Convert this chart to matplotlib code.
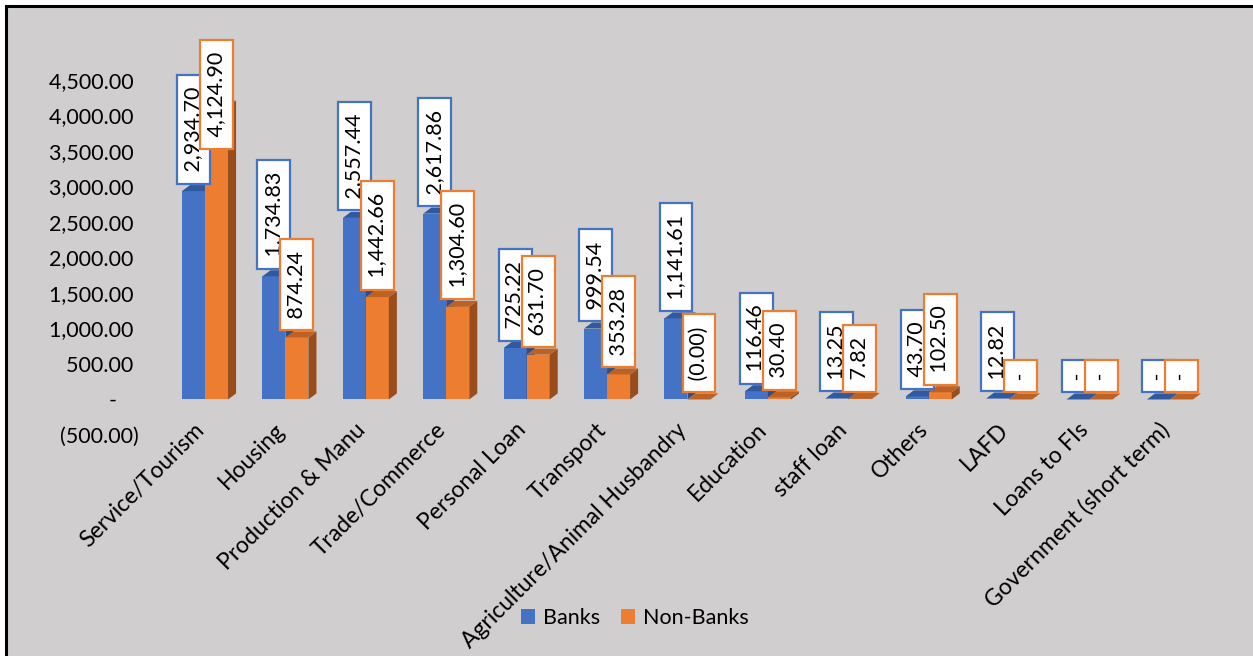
import matplotlib.pyplot as plt
from matplotlib.patches import Polygon, Rectangle, Patch

categories = ['Service/Tourism', 'Housing', 'Production & Manu', 'Trade/Commerce',
              'Personal Loan', 'Transport', 'Agriculture/Animal Husbandry', 'Education',
              'staff loan', 'Others', 'LAFD', 'Loans to FIs', 'Government (short term)']
banks = [2934.70, 1734.83, 2557.44, 2617.86, 725.22, 999.54, 1141.61, 116.46,
         13.25, 43.70, 12.82, 0, 0]
non_banks = [4124.90, 874.24, 1442.66, 1304.60, 631.70, 353.28, -0.001, 30.40,
             7.82, 102.50, 0, 0, 0]
y_ticks = [-500, 0, 500, 1000, 1500, 2000, 2500, 3000, 3500, 4000, 4500]

BLUE = '#4472C4'
ORANGE = '#ED7D31'
BLUE_TOP, BLUE_SIDE = '#30599F', '#2B4F8E'
ORANGE_TOP, ORANGE_SIDE = '#BC6224', '#9A4D1C'
BG = '#D0CECE'
FS = 15.5

plt.rcParams['font.family'] = ['Lato', 'DejaVu Sans']


def acct(v):
    # accounting style: zero as a dash, negatives in brackets
    if v == 0:
        return '-'
    if v < 0:
        return f'({abs(v):,.2f})'
    return f'{v:,.2f}'


fig = plt.figure(figsize=(12.53, 6.56), dpi=100)
fig.patch.set_facecolor('white')
fig.add_artist(Rectangle((6 / 1253, -0.05), 1.1, (650 / 656) + 0.05,
                         transform=fig.transFigure, facecolor=BG,
                         edgecolor='black', linewidth=2.2, zorder=0))

ax = fig.add_axes([150 / 1253, 1 - 445 / 656, 1065 / 1253, 405 / 656])
ax.set_facecolor('none')
ax.set_xlim(-0.684, 12.56)
ax.set_ylim(-641, 5063)
for s in ax.spines.values():
    s.set_visible(False)
ax.set_xticks([])
ax.tick_params(axis='y', length=0, labelsize=FS, pad=8)


def tick_text(v):
    if v == 0:
        return '-    '
    if v < 0:
        return acct(v)
    return acct(v) + ' '


ax.set_yticks(y_ticks)
ax.set_yticklabels([tick_text(v) for v in y_ticks])

w = 0.286
dx, dy = 0.1, 85


def bars_3d(xs, vals, front, top, side, z):
    ax.bar(xs, vals, w, color=front, zorder=z)
    for x, v in zip(xs, vals):
        x0, x1 = x - w / 2, x + w / 2
        h = max(v, 0)
        ax.add_patch(Polygon([(x1, 0), (x1 + dx, dy), (x1 + dx, h + dy), (x1, h)],
                             closed=True, facecolor=side, edgecolor='none', zorder=z))
        ax.add_patch(Polygon([(x0, h), (x1, h), (x1 + dx, h + dy), (x0 + dx, h + dy)],
                             closed=True, facecolor=top, edgecolor='none', zorder=z))


idx = list(range(len(categories)))
xb = [i - w / 2 for i in idx]
xn = [i + w / 2 for i in idx]
bars_3d(xb, banks, BLUE, BLUE_TOP, BLUE_SIDE, 2)
bars_3d(xn, non_banks, ORANGE, ORANGE_TOP, ORANGE_SIDE, 3)

labels = []
for xs, vals, ec, z in [(xb, banks, BLUE, 5), (xn, non_banks, ORANGE, 6)]:
    for x, v in zip(xs, vals):
        t = ax.annotate(' ' + acct(v) + ' ', xy=(x, max(v, 0)), xytext=(0, 10),
                        textcoords='offset points', rotation=90, ha='center',
                        va='bottom', fontsize=FS, zorder=z,
                        bbox=dict(boxstyle='square,pad=0.3', fc='white', ec=ec, lw=1.6))
        labels.append(t)

for i, name in enumerate(categories):
    ax.text(i - 0.05, -380, name, rotation=45, ha='right', va='center',
            rotation_mode='anchor', fontsize=16.5, clip_on=False)

fig.legend(handles=[Patch(fc=BLUE), Patch(fc=ORANGE)], labels=['Banks', 'Non-Banks'],
           loc='center', bbox_to_anchor=(635 / 1253, 1 - 618 / 656), ncol=2,
           frameon=False, fontsize=FS, handlelength=0.65, handleheight=0.65,
           handletextpad=0.35, columnspacing=1.0)

# keep boxes that would poke out of the plot area inside it
fig.canvas.draw()
r = fig.canvas.get_renderer()
ax_top = ax.get_window_extent(r).y1
for t in labels:
    ext = t.get_bbox_patch().get_window_extent(r)
    over = ext.y1 - ax_top
    if over > 0:
        ox, oy = t.xyann
        t.xyann = (ox, oy - over * 72 / fig.dpi)

fig.savefig('out.png', dpi=100)
